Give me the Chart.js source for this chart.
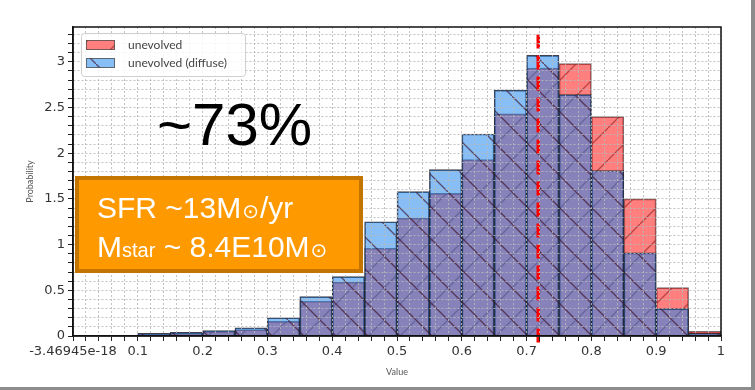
<!DOCTYPE html>
<html>

<head>
    <title>Probability histogram</title>
    <script src="https://cdn.jsdelivr.net/npm/chart.js"></script>
    <style>
        body { margin: 0; background: #8c8c8c; }
        #wrap { position: relative; width: 751px; height: 387px; background: #fff; }
    </style>
</head>

<body>
    <div id="wrap"><canvas id="myChart"></canvas></div>
    <script>
        // histogram bins are 0.05 wide, values given at the bin centres
        const binCenters = [0.125, 0.175, 0.225, 0.275, 0.325, 0.375, 0.425, 0.475, 0.525,
            0.575, 0.625, 0.675, 0.725, 0.775, 0.825, 0.875, 0.925, 0.975];
        const unevolved = [0.02, 0.03, 0.05, 0.07, 0.16, 0.38, 0.59, 0.96, 1.29,
            1.56, 1.93, 2.43, 2.93, 2.98, 2.40, 1.50, 0.53, 0.05];
        const unevolvedDiffuse = [0.03, 0.04, 0.06, 0.09, 0.20, 0.43, 0.65, 1.25, 1.58,
            1.82, 2.21, 2.69, 3.07, 2.64, 1.81, 0.91, 0.30, 0.03];
        const xTickValues = [0, 0.1, 0.2, 0.3, 0.4, 0.5, 0.6, 0.7, 0.8, 0.9, 1];
        const xTickLabels = ['-3.46945e-18', '0.1', '0.2', '0.3', '0.4', '0.5', '0.6', '0.7', '0.8', '0.9', '1'];
        const yTickValues = [0, 0.5, 1, 1.5, 2, 2.5, 3];
        const yTickLabels = ['0', '0.5', '1', '1.5', '2', '2.5', '3'];
        const markerValue = 0.718;
        const yMax = 3.38;

        // hatched fills like the matplotlib patches
        function hatch(fill, line, forward) {
            const s = 32;
            const c = document.createElement('canvas');
            c.width = s; c.height = s;
            const g = c.getContext('2d');
            g.fillStyle = fill;
            g.fillRect(0, 0, s, s);
            g.strokeStyle = line;
            g.lineWidth = 1.3;
            g.beginPath();
            if (forward) {
                g.moveTo(-2, s + 2); g.lineTo(s + 2, -2);
            } else {
                g.moveTo(-2, -2); g.lineTo(s + 2, s + 2);
            }
            g.stroke();
            return g.createPattern(c, 'repeat');
        }
        const redHatch = hatch('rgba(255,0,0,0.5)', 'rgba(140,30,30,0.6)', true);
        const blueHatch = hatch('rgba(28,132,236,0.53)', 'rgba(60,15,40,0.65)', false);

        function steps(from, to, step) {
            const out = [];
            for (let v = from; v <= to + 1e-9; v += step) out.push(Math.round(v * 1000) / 1000);
            return out;
        }
        function labelFor(v, values, labels) {
            const i = values.findIndex(t => Math.abs(t - v) < 1e-6);
            return i < 0 ? '' : labels[i];
        }

        const decor = {
            id: 'decor',
            afterDraw(chart) {
                const ctx = chart.ctx;
                const a = chart.chartArea;
                ctx.save();
                // frame
                ctx.strokeStyle = '#111';
                ctx.lineWidth = 1.5;
                ctx.strokeRect(a.left, a.top, a.right - a.left, a.bottom - a.top);

                // legend
                ctx.fillStyle = 'rgba(255,255,255,0.85)';
                ctx.strokeStyle = '#d0d0d0';
                ctx.lineWidth = 1;
                ctx.beginPath();
                ctx.roundRect(81.5, 33.5, 164, 43, 3);
                ctx.fill();
                ctx.stroke();
                const items = [
                    { ds: chart.data.datasets[2], y: 40 },
                    { ds: chart.data.datasets[1], y: 58 }
                ];
                ctx.font = '12px Lato';
                ctx.textBaseline = 'middle';
                items.forEach(it => {
                    ctx.fillStyle = '#fff';
                    ctx.fillRect(86, it.y, 29, 10);
                    ctx.fillStyle = it.ds.backgroundColor;
                    ctx.fillRect(86, it.y, 29, 10);
                    ctx.strokeStyle = 'rgba(80,80,80,0.8)';
                    ctx.strokeRect(86.5, it.y + 0.5, 28, 9);
                    ctx.fillStyle = '#444';
                    ctx.fillText(it.ds.label, 128, it.y + 5);
                });

                // slide annotations
                ctx.textBaseline = 'alphabetic';
                ctx.fillStyle = '#000';
                ctx.font = '60px "Liberation Sans"';
                ctx.fillText('~73%', 157, 145);

                ctx.fillStyle = '#ff9900';
                ctx.fillRect(75, 176, 288, 97);
                ctx.strokeStyle = '#c47500';
                ctx.lineWidth = 4;
                ctx.strokeRect(77, 178, 284, 93);

                ctx.fillStyle = '#fff';
                const put = (t, x, y, font) => {
                    ctx.font = font;
                    ctx.fillText(t, x, y);
                    return x + ctx.measureText(t).width;
                };
                const big = '30px "Liberation Sans"';
                const sun = '20px "DejaVu Sans"';
                let x = put('SFR ~13M', 97, 218, big);
                x = put('\u2299', x + 1, 218, sun);
                put('/yr', x + 1, 218, big);
                x = put('M', 97, 257, big);
                x = put('star', x, 257, '20px "Liberation Sans"');
                x = put(' ~ 8.4E10M', x, 257, big);
                put('\u2299', x + 1, 257, sun);
                ctx.restore();
            }
        };

        const config = {
            data: {
                datasets: [{
                    type: 'line',
                    label: 'marker',
                    data: [{ x: markerValue, y: -0.07 }, { x: markerValue, y: yMax - 0.02 }],
                    xAxisID: 'x',
                    yAxisID: 'y',
                    borderColor: '#ff0000',
                    borderWidth: 3.5,
                    borderDash: [14, 7],
                    pointRadius: 0,
                    clip: false,
                    order: 0
                }, {
                    type: 'bar',
                    label: 'unevolved (diffuse)',
                    data: binCenters.map((c, i) => ({ x: c, y: unevolvedDiffuse[i] })),
                    xAxisID: 'xb',
                    yAxisID: 'y',
                    backgroundColor: blueHatch,
                    borderColor: 'rgba(30,30,45,0.85)',
                    borderWidth: 1,
                    grouped: false,
                    categoryPercentage: 1,
                    barPercentage: 1,
                    order: 1
                }, {
                    type: 'bar',
                    label: 'unevolved',
                    data: binCenters.map((c, i) => ({ x: c, y: unevolved[i] })),
                    xAxisID: 'xb',
                    yAxisID: 'y',
                    backgroundColor: redHatch,
                    borderColor: 'rgba(90,70,70,0.8)',
                    borderWidth: 1,
                    grouped: false,
                    categoryPercentage: 1,
                    barPercentage: 1,
                    order: 2
                }]
            },
            options: {
                responsive: true,
                maintainAspectRatio: false,
                animation: false,
                layout: { padding: { top: 27, right: 30, left: 0, bottom: 0 } },
                plugins: {
                    legend: { display: false },
                    tooltip: { enabled: false }
                },
                scales: {
                    xb: {
                        type: 'linear',
                        position: 'bottom',
                        min: 0,
                        max: 1,
                        offset: false,
                        afterFit: s => { s.height = 0; },
                        ticks: { stepSize: 0.5, display: false },
                        grid: { display: false, offset: false },
                        border: { display: false }
                    },
                    x: {
                        type: 'linear',
                        position: 'bottom',
                        min: 0,
                        max: 1,
                        offset: false,
                        afterBuildTicks: s => { s.ticks = steps(0, 1, 0.02).map(v => ({ value: v })); },
                        afterFit: s => { s.height = 51; },
                        ticks: {
                            autoSkip: false,
                            maxRotation: 0,
                            minRotation: 0,
                            padding: 3,
                            color: '#333',
                            font: { family: 'DejaVu Sans', size: 13 },
                            callback: v => labelFor(v, xTickValues, xTickLabels)
                        },
                        grid: { color: 'rgba(185,185,185,0.85)', tickColor: '#222', tickLength: 5, z: 1 },
                        border: { color: '#111', width: 1.5, dash: [2, 2], z: 1 },
                        title: {
                            display: true,
                            text: 'Value',
                            color: '#555',
                            font: { family: 'Lato', size: 9 },
                            padding: { top: 0, bottom: 10 }
                        }
                    },
                    y: {
                        type: 'linear',
                        min: 0,
                        max: yMax,
                        stacked: false,
                        afterBuildTicks: s => { s.ticks = steps(0, 3.3, 0.1).map(v => ({ value: v })); },
                        afterFit: s => { s.width = 73; },
                        ticks: {
                            autoSkip: false,
                            padding: 3,
                            color: '#333',
                            font: { family: 'DejaVu Sans', size: 13 },
                            callback: v => labelFor(v, yTickValues, yTickLabels)
                        },
                        grid: { color: 'rgba(185,185,185,0.85)', tickColor: '#222', tickLength: 5, z: 1 },
                        border: { color: '#111', width: 1.5, dash: [2, 2], z: 1 },
                        title: {
                            display: true,
                            text: 'Probability',
                            color: '#555',
                            font: { family: 'Lato', size: 9 },
                            padding: { top: 25, bottom: 0 }
                        }
                    }
                }
            },
            plugins: [decor]
        };
        var myChart = new Chart(document.getElementById('myChart'), config);
    </script>
</body>

</html>
